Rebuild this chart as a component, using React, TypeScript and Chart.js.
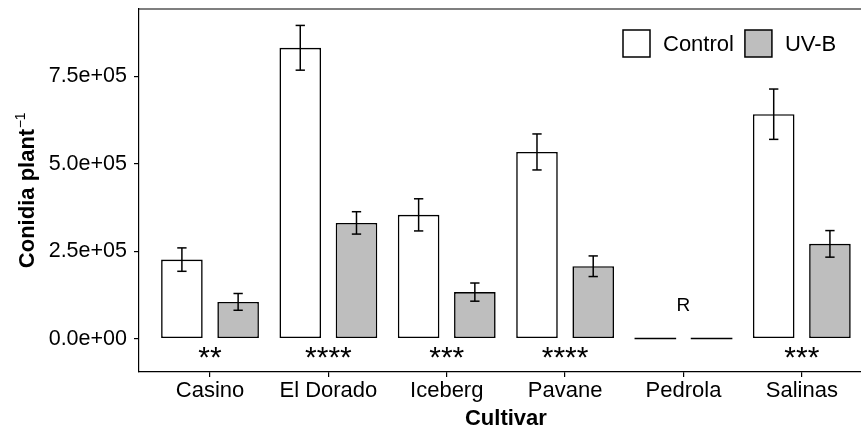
import React, { useEffect, useRef } from 'react';
import { Chart, registerables } from 'chart.js';

Chart.register(...registerables);

// ---- data ----
const categories = ['Casino', 'El Dorado', 'Iceberg', 'Pavane', 'Pedrola', 'Salinas'];
const seriesNames = ['Control', 'UV-B'];
const controlMeans = [226000, 832000, 354000, 534000, 0, 642000];
const controlErrors = [33500, 64000, 46000, 51500, 0, 72000];
const uvbMeans = [105000, 331000, 133000, 207000, 0, 271000];
const uvbErrors = [24000, 32000, 26000, 29500, 0, 38000];
const significance = ['**', '****', '***', '****', '', '***'];
const notes = ['', '', '', '', 'R', ''];
const yTicks = [0, 250000, 500000, 750000];
const starValue = -33000;
const noteValue = 99000;

// ---- styles ----
const FONT = '"Liberation Sans", Arial, Helvetica, sans-serif';
const INK = '#000000';
const FILLS = ['#FFFFFF', '#BEBEBE'];
const Y_MIN = -95600;
const Y_MAX = 943000;
const X_MIN = 0.4;
const X_MAX = 6.5;

function sci(v: number): string {
  const [m, e] = v.toExponential(1).split('e');
  const n = parseInt(e, 10);
  return m + 'e' + (n < 0 ? '-' : '+') + String(Math.abs(n)).padStart(2, '0');
}

const decor = {
  id: 'decor',
  afterDatasetsDraw(chart: any) {
    const ctx: CanvasRenderingContext2D = chart.ctx;
    const xs = chart.scales.x;
    const ys = chart.scales.y;
    const means = [controlMeans, uvbMeans];
    const errs = [controlErrors, uvbErrors];
    ctx.save();
    ctx.strokeStyle = INK;
    ctx.lineWidth = 1.5;
    ctx.lineCap = 'butt';
    const line = (x1: number, y1: number, x2: number, y2: number) => {
      ctx.beginPath();
      ctx.moveTo(x1, y1);
      ctx.lineTo(x2, y2);
      ctx.stroke();
    };
    chart.data.datasets.forEach((_ds: any, di: number) => {
      const meta = chart.getDatasetMeta(di);
      meta.data.forEach((el: any, j: number) => {
        const m = means[di][j];
        const e = errs[di][j];
        const { x, width } = el.getProps(['x', 'width'], true);
        if (m === 0) {
          const y0 = ys.getPixelForValue(0);
          line(x - width / 2, y0, x + width / 2, y0);
        }
        if (e > 0) {
          const yt = ys.getPixelForValue(m + e);
          const yb = ys.getPixelForValue(m - e);
          const cap = width * 0.112;
          line(x, yt, x, yb);
          line(x - cap, yt, x + cap, yt);
          line(x - cap, yb, x + cap, yb);
        }
      });
    });

    // significance stars
    ctx.fillStyle = INK;
    ctx.textAlign = 'center';
    ctx.textBaseline = 'alphabetic';
    const starSize = 30;
    ctx.font = `${starSize}px ${FONT}`;
    significance.forEach((s, j) => {
      if (!s) return;
      const x = xs.getPixelForValue(j + 1);
      const y = ys.getPixelForValue(starValue);
      ctx.fillText(s, x, y + 0.575 * starSize);
    });
    // notes
    const noteSize = 19;
    ctx.font = `${noteSize}px ${FONT}`;
    notes.forEach((s, j) => {
      if (!s) return;
      const x = xs.getPixelForValue(j + 1);
      const y = ys.getPixelForValue(noteValue);
      ctx.fillText(s, x, y + 0.358 * noteSize);
    });
    ctx.restore();
  },
  afterDraw(chart: any) {
    const ctx: CanvasRenderingContext2D = chart.ctx;
    const area = chart.chartArea;
    const xs = chart.scales.x;
    ctx.save();
    // top panel border
    ctx.strokeStyle = INK;
    ctx.lineWidth = 1.2;
    ctx.beginPath();
    ctx.moveTo(area.left, area.top);
    ctx.lineTo(area.right, area.top);
    ctx.stroke();

    // x title
    ctx.fillStyle = INK;
    ctx.font = `bold 22px ${FONT}`;
    ctx.textAlign = 'center';
    ctx.textBaseline = 'alphabetic';
    ctx.fillText('Cultivar', xs.getPixelForValue(3.5), area.bottom + 52.5);

    // y title (rotated) with superscript
    const main = 'Conidia plant';
    const sup = '\u22121';
    ctx.font = `bold 22px ${FONT}`;
    const w1 = ctx.measureText(main).width;
    ctx.font = `14px ${FONT}`;
    const w2 = ctx.measureText(sup).width;
    const total = w1 + w2;
    const cy = (area.top + area.bottom) / 2;
    ctx.translate(33.5, cy);
    ctx.rotate(-Math.PI / 2);
    ctx.textAlign = 'left';
    ctx.font = `bold 22px ${FONT}`;
    ctx.fillText(main, -total / 2, 0);
    ctx.font = `14px ${FONT}`;
    ctx.fillText(sup, -total / 2 + w1 + 0.5, -9);
    ctx.setTransform(1, 0, 0, 1, 0, 0);

    // legend
    const box = 27;
    let lx = 623;
    const ly = 30;
    ctx.font = `22px ${FONT}`;
    ctx.textAlign = 'left';
    ctx.lineWidth = 1.5;
    chart.data.datasets.forEach((ds: any) => {
      ctx.fillStyle = ds.backgroundColor;
      ctx.fillRect(lx, ly, box, box);
      ctx.strokeStyle = INK;
      ctx.strokeRect(lx, ly, box, box);
      ctx.fillStyle = INK;
      const tx = lx + box + 13;
      ctx.fillText(ds.label, tx, ly + box / 2 + 0.358 * 22);
      lx = tx + ctx.measureText(ds.label).width + 11;
    });
    ctx.restore();
  },
};

export default function App() {
  const ref = useRef<HTMLCanvasElement>(null);
  useEffect(() => {
    document.body.style.margin = '0';
    const makeData = (arr: number[]) => arr.map((v, i) => ({ x: i + 1, y: v }));
    const chart = new Chart(ref.current as HTMLCanvasElement, {
      type: 'bar',
      data: {
        datasets: [
          {
            label: seriesNames[0],
            data: makeData(controlMeans),
            backgroundColor: FILLS[0],
            borderColor: INK,
            borderWidth: 1.6,
            borderSkipped: false,
            categoryPercentage: 0.95,
            barPercentage: 0.74,
          },
          {
            label: seriesNames[1],
            data: makeData(uvbMeans),
            backgroundColor: FILLS[1],
            borderColor: INK,
            borderWidth: 1.6,
            borderSkipped: false,
            categoryPercentage: 0.95,
            barPercentage: 0.74,
          },
        ] as any,
      },
      options: {
        responsive: false,
        animation: false,
        devicePixelRatio: 1,
        layout: { padding: { top: 9, left: 0, right: 0, bottom: 0 } },
        plugins: { legend: { display: false }, tooltip: { enabled: false } },
        scales: {
          x: {
            type: 'linear',
            offset: false,
            min: X_MIN,
            max: X_MAX,
            grid: {
              display: true,
              offset: false,
              drawOnChartArea: false,
              drawTicks: true,
              tickLength: 5,
              color: INK,
              lineWidth: 1.2,
            },
            border: { display: true, color: INK, width: 1.2 },
            ticks: {
              color: INK,
              font: { size: 22, family: FONT },
              padding: 1,
              autoSkip: false,
              maxRotation: 0,
              callback: (v: any) => categories[Math.round(Number(v)) - 1] ?? '',
            },
            afterBuildTicks: (s: any) => {
              s.ticks = categories.map((_, i) => ({ value: i + 1 }));
            },
            afterFit: (s: any) => {
              s.height = 57;
              s.paddingLeft = 0;
              s.paddingRight = 0;
            },
          },
          y: {
            type: 'linear',
            min: Y_MIN,
            max: Y_MAX,
            grid: {
              display: true,
              drawOnChartArea: false,
              drawTicks: true,
              tickLength: 5,
              color: INK,
              lineWidth: 1.2,
            },
            border: { display: true, color: INK, width: 1.2 },
            ticks: {
              color: INK,
              font: { size: 21.5, family: FONT },
              padding: 7,
              callback: (v: any) => sci(Number(v)),
            },
            afterBuildTicks: (s: any) => {
              s.ticks = yTicks.map((v) => ({ value: v }));
            },
            afterFit: (s: any) => {
              s.width = 139;
              s.paddingTop = 0;
              s.paddingBottom = 0;
            },
          },
        } as any,
      },
      plugins: [decor],
    } as any);
    return () => chart.destroy();
  }, []);
  return <canvas ref={ref} width={861} height={429} style={{ display: 'block' }} />;
}
